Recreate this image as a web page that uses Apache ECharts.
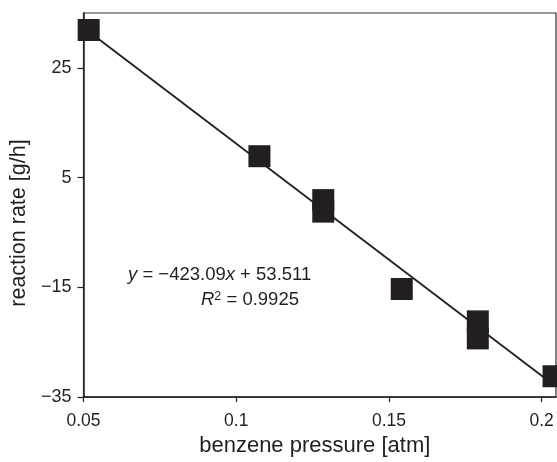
<!DOCTYPE html>
<html>
<head>
<meta charset="utf-8">
<script src="https://cdn.jsdelivr.net/npm/echarts@6/dist/echarts.min.js"></script>
<style>html,body{margin:0;padding:0;background:#fff;}#c{width:557px;height:462px;}</style>
</head>
<body>
<div id="c"></div>
<script>
// Data
var pressure = [0.0517, 0.1076, 0.1285, 0.1285, 0.1542, 0.1791, 0.1791, 0.2039];
var rate = [31.9, 8.9, 0.9, -1.2, -15.3, -21.2, -24.3, -31.2];
var trendX = [0.0517, 0.2039];
var trendY = [31.64, -32.76];
var xTicks = [0.05, 0.1, 0.15, 0.2];
var yTicks = [-35, -15, 5, 25];
var eqLine = ['y', ' = \u2212423.09', 'x', ' + 53.511'];
var r2Line = ['R', '2', ' = 0.9925'];

var font = 'Liberation Sans, Arial, Helvetica, sans-serif';
var ink = '#231f20';

function fmt(v) {
  var s = String(Math.round(v * 1000) / 1000);
  return s.replace('-', '\u2212');
}

var chart = echarts.init(document.getElementById('c'), null, {renderer: 'canvas'});
chart.setOption({
  animation: false,
  backgroundColor: '#fff',
  grid: {left: 83.5, right: 1, top: 13, bottom: 59.3, show: true, borderColor: '#333', borderWidth: 1.2, backgroundColor: 'transparent'},
  xAxis: {
    type: 'value', min: 0.05, max: 0.2047,
    name: 'benzene pressure [atm]', nameLocation: 'middle', nameGap: 37,
    nameTextStyle: {fontFamily: font, fontSize: 22, color: ink, padding: [0, 10, 0, 0]},
    axisLine: {show: true, onZero: false, lineStyle: {color: ink, width: 1.5}},
    axisTick: {show: true, inside: false, length: 5, customValues: xTicks, lineStyle: {color: ink, width: 1.2}},
    axisLabel: {customValues: xTicks, margin: 15, fontFamily: font, fontSize: 17.5, color: ink, formatter: fmt, showMaxLabel: true, showMinLabel: true},
    splitLine: {show: false}
  },
  yAxis: {
    type: 'value', min: -35, max: 35,
    name: 'reaction rate [g/h]', nameLocation: 'middle', nameGap: 52, nameRotate: 90,
    nameTextStyle: {fontFamily: font, fontSize: 21.5, color: ink, padding: [0, 36, 0, 0]},
    axisLine: {show: true, onZero: false, lineStyle: {color: ink, width: 1.5}},
    axisTick: {show: true, inside: false, length: 6, customValues: yTicks, lineStyle: {color: ink, width: 1.2}},
    axisLabel: {customValues: yTicks, margin: 12, fontFamily: font, fontSize: 18, color: ink, formatter: fmt},
    splitLine: {show: false}
  },
  series: [
    {
      type: 'line', data: trendX.map(function (x, i) { return [x, trendY[i]]; }),
      symbol: 'none', lineStyle: {color: ink, width: 1.8}, z: 2, silent: true
    },
    {
      type: 'scatter', data: pressure.map(function (x, i) { return [x, rate[i]]; }),
      symbol: 'rect', symbolSize: 22, itemStyle: {color: ink, opacity: 1}, z: 3, silent: true
    }
  ],
  graphic: [
    {
      type: 'text', left: 128, top: 265, z: 10,
      style: {
        text: '{i|' + eqLine[0] + '}{n|' + eqLine[1] + '}{i|' + eqLine[2] + '}{n|' + eqLine[3] + '}',
        rich: {
          i: {fontFamily: font, fontSize: 18.5, fontStyle: 'italic', fill: ink},
          n: {fontFamily: font, fontSize: 18.5, fill: ink}
        }
      }
    },
    {
      type: 'text', left: 201, top: 290, z: 10,
      style: {
        text: '{i|' + r2Line[0] + '}{s|' + r2Line[1] + '}{n|' + r2Line[2] + '}',
        rich: {
          i: {fontFamily: font, fontSize: 18.5, fontStyle: 'italic', fill: ink},
          s: {fontFamily: font, fontSize: 12.5, fill: ink, verticalAlign: 'top', padding: [0, 0, 7, 0]},
          n: {fontFamily: font, fontSize: 18.5, fill: ink}
        }
      }
    }
  ]
});
</script>
</body>
</html>
